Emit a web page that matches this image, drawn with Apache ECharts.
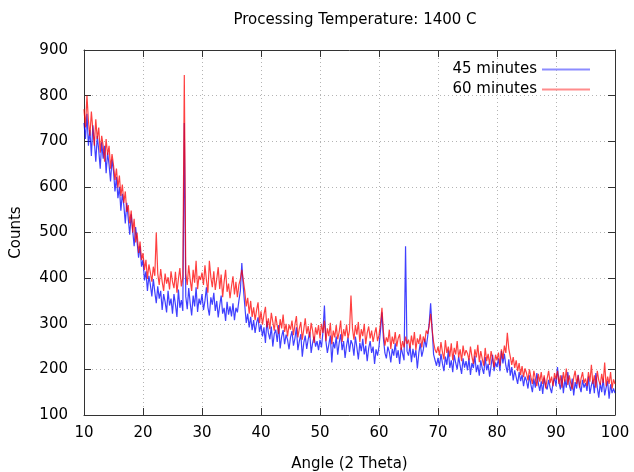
<!DOCTYPE html>
<html>
<head>
<meta charset="utf-8">
<script src="https://cdn.jsdelivr.net/npm/echarts@6/dist/echarts.min.js"></script>
<style>
  html, body { margin: 0; padding: 0; background: #fff; }
  #chart { width: 634px; height: 472px; }
</style>
</head>
<body>
<div id="chart"></div>
<script>
// angle runs from 10 to 100 in steps of 0.25 degrees
var angleStart = 10;
var angleStep = 0.25;

var counts45 = [
  740, 705, 760, 690, 725, 668, 735, 700, 655, 712, 680, 640, 698, 662, 690, 630, 675, 648, 612, 660,
  635, 590, 622, 575, 600, 548, 585, 560, 520, 565, 530, 495, 540, 505, 470, 512, 480, 445, 470, 425,
  440, 395, 415, 372, 405, 385, 360, 398, 370, 345, 382, 355, 372, 330, 365, 348, 325, 372, 340, 355,
  322, 365, 342, 315, 375, 335, 352, 328, 740, 360, 332, 378, 345, 318, 362, 338, 380, 326, 355, 342,
  365, 330, 350, 380, 336, 318, 358, 342, 368, 328, 350, 314, 340, 362, 322, 335, 306, 348, 320, 338,
  316, 345, 308, 335, 325, 350, 372, 433, 380, 340, 302, 322, 292, 315, 286, 308, 280, 302, 314, 282,
  298, 272, 292, 258, 306, 280, 266, 294, 250, 278, 287, 260, 297, 246, 272, 286, 255, 276, 265, 244,
  270, 284, 252, 268, 292, 242, 262, 277, 228, 258, 274, 245, 266, 282, 236, 258, 272, 250, 262, 242,
  265, 248, 282, 340, 262, 236, 255, 274, 215, 260, 246, 272, 232, 258, 277, 242, 262, 225, 252, 270,
  238, 264, 255, 230, 272, 248, 222, 258, 240, 267, 233, 252, 218, 246, 262, 236, 250, 212, 244, 230,
  250, 285, 325, 268, 236, 224, 250, 238, 215, 245, 230, 257, 225, 242, 212, 248, 234, 220, 470, 240,
  230, 252, 216, 245, 226, 242, 202, 236, 257, 228, 242, 267, 248, 272, 300, 345, 290, 233, 220, 208,
  225, 206, 234, 213, 196, 228, 210, 242, 203, 220, 194, 232, 214, 200, 228, 208, 190, 224, 204, 218,
  198, 224, 188, 214, 203, 230, 194, 210, 186, 220, 202, 190, 227, 198, 212, 184, 208, 232, 196, 215,
  205, 224, 196, 240, 213, 234, 208, 193, 222, 186, 205, 176, 198, 183, 168, 194, 174, 188, 163, 184,
  175, 158, 187, 166, 150, 180, 160, 192, 170, 153, 174, 146, 182, 163, 156, 177, 160, 148, 170, 182,
  163, 205, 172, 156, 187, 148, 178, 160, 194, 166, 153, 180, 143, 172, 158, 188, 163, 150, 177, 160,
  170, 153, 184, 146, 165, 177, 148, 192, 160, 138, 170, 150, 180, 143, 160, 174, 136, 167, 148, 158,
  148
];

var counts60 = [
  770, 730, 800, 745, 712, 765, 725, 690, 748, 705, 730, 675, 712, 690, 655, 705, 670, 690, 640, 672,
  648, 615, 640, 598, 625, 580, 605, 565, 590, 545, 560, 520, 548, 500, 530, 478, 500, 455, 480, 440,
  455, 418, 440, 398, 430, 412, 392, 425, 405, 500, 410, 385, 420, 392, 372, 410, 388, 402, 375, 415,
  392, 378, 414, 368, 398, 422, 382, 402, 845, 410, 385, 428, 396, 372, 418, 390, 438, 376, 405, 396,
  412, 385, 428, 396, 368, 438, 402, 380, 415, 374, 398, 424, 376, 408, 358, 392, 418, 370, 388, 356,
  382, 404, 364, 392, 358, 385, 398, 418, 395, 372, 338, 357, 322, 350, 315, 336, 308, 330, 347, 302,
  327, 298, 320, 337, 292, 312, 288, 324, 304, 285, 317, 296, 278, 310, 290, 320, 282, 300, 272, 298,
  287, 307, 275, 298, 317, 270, 290, 304, 265, 288, 312, 278, 295, 270, 302, 285, 258, 292, 276, 297,
  268, 300, 280, 307, 262, 290, 273, 302, 255, 285, 270, 297, 266, 282, 307, 260, 288, 273, 298, 268,
  285, 362, 290, 265, 297, 276, 304, 260, 288, 273, 300, 255, 280, 294, 268, 285, 260, 278, 292, 262,
  275, 300, 335, 282, 252, 270, 260, 287, 245, 272, 256, 282, 250, 268, 277, 242, 262, 248, 272, 256,
  265, 246, 274, 253, 282, 242, 268, 256, 277, 248, 272, 260, 285, 278, 295, 322, 288, 260, 243, 236,
  250, 230, 260, 238, 222, 264, 236, 250, 228, 257, 220, 247, 233, 262, 226, 244, 218, 252, 230, 242,
  235, 220, 250, 228, 212, 244, 226, 254, 216, 240, 223, 208, 247, 218, 234, 210, 240, 224, 205, 232,
  220, 237, 208, 244, 223, 252, 236, 280, 245, 228, 210, 227, 203, 220, 196, 214, 188, 207, 183, 202,
  192, 176, 200, 183, 168, 197, 180, 163, 190, 173, 194, 168, 187, 158, 180, 197, 170, 184, 163, 192,
  178, 197, 168, 187, 160, 194, 173, 202, 166, 187, 170, 156, 182, 197, 168, 187, 160, 180, 194, 170,
  180, 163, 194, 173, 210, 168, 187, 160, 197, 176, 166, 190, 170, 215, 163, 184, 168, 194, 158, 178,
  168
];

function pairs(values) {
  var out = [];
  for (var i = 0; i < values.length; i++) {
    out.push([angleStart + i * angleStep, values[i]]);
  }
  return out;
}

var font = 'DejaVu Sans';
var myChart = echarts.init(document.getElementById('chart'));

var gridLine = { show: true, lineStyle: { color: '#b4b4b4', type: [1, 3], width: 1 } };

var hiddenAxis = {
  axisLine: { show: true, lineStyle: { color: '#333', width: 1 } },
  axisTick: { show: true, inside: true, length: 7, lineStyle: { color: '#333' } },
  axisLabel: { show: false },
  splitLine: { show: false }
};

option = {
  animation: false,
  backgroundColor: '#fff',
  title: {
    text: 'Processing Temperature: 1400 C',
    left: 350,
    textAlign: 'center',
    top: 8,
    textStyle: { fontFamily: font, fontSize: 15, fontWeight: 'normal', color: '#000' }
  },
  legend: {
    orient: 'vertical',
    right: 39,
    top: 57,
    align: 'right',
    itemWidth: 48,
    itemHeight: 2,
    itemGap: 5,
    icon: 'rect',
    textStyle: { fontFamily: font, fontSize: 15, color: '#000' },
    data: [
      { name: '45 minutes', itemStyle: { color: '#8c8cff' } },
      { name: '60 minutes', itemStyle: { color: '#ff8c8c' } }
    ]
  },
  grid: { left: 84, right: 19, top: 50, bottom: 57, outerBoundsMode: 'none', containLabel: false },
  xAxis: [
    {
      type: 'value',
      min: 10, max: 100, interval: 10,
      name: 'Angle (2 Theta)',
      nameLocation: 'middle',
      nameGap: 42,
      nameTextStyle: { fontFamily: font, fontSize: 15, color: '#000' },
      axisLine: { show: true, lineStyle: { color: '#333', width: 1 } },
      axisTick: { show: true, inside: true, length: 7, lineStyle: { color: '#333' } },
      axisLabel: { fontFamily: font, fontSize: 15, color: '#000', margin: 11 },
      splitLine: gridLine
    },
    Object.assign({ type: 'value', position: 'top', min: 10, max: 100, interval: 10 }, hiddenAxis)
  ],
  yAxis: [
    {
      type: 'value',
      min: 100, max: 900, interval: 100,
      name: 'Counts',
      nameLocation: 'middle',
      nameGap: 60,
      nameTextStyle: { fontFamily: font, fontSize: 15, color: '#000' },
      axisLine: { show: true, lineStyle: { color: '#333', width: 1 } },
      axisTick: { show: true, inside: true, length: 7, lineStyle: { color: '#333' } },
      axisLabel: { fontFamily: font, fontSize: 15, color: '#000', margin: 16 },
      splitLine: gridLine
    },
    Object.assign({ type: 'value', position: 'right', min: 100, max: 900, interval: 100 }, hiddenAxis)
  ],
  series: [
    {
      name: '45 minutes',
      type: 'line',
      data: pairs(counts45),
      showSymbol: false,
      color: '#0000ff',
      lineStyle: { width: 1.2, color: '#0000ff', opacity: 0.75 }
    },
    {
      name: '60 minutes',
      type: 'line',
      data: pairs(counts60),
      showSymbol: false,
      color: '#ff0000',
      lineStyle: { width: 1.2, color: '#ff0000', opacity: 0.75 }
    }
  ]
};

myChart.setOption(option);
</script>
</body>
</html>
